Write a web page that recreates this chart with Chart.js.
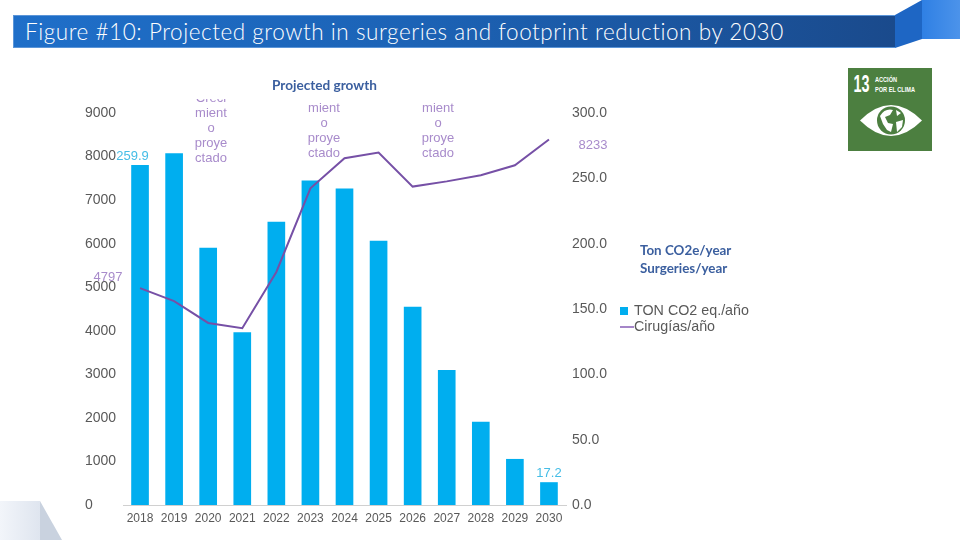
<!DOCTYPE html>
<html lang="en">
<head>
<meta charset="UTF-8">
<title>Figure #10</title>
<script src="https://cdn.jsdelivr.net/npm/chart.js"></script>
<style>
    html, body { margin: 0; padding: 0; background: #fff; }
    #page { position: relative; width: 960px; height: 540px; overflow: hidden; font-family: Arial, "Liberation Sans", sans-serif; }
    #page canvas { position: absolute; left: 0; top: 0; }
    .abs { position: absolute; }
    #banner {
        left: 13px; top: 15px; width: 882px; height: 33px; box-sizing: border-box;
        background: linear-gradient(90deg, #1f6fc9 0%, #1c63b6 45%, #1a4a8c 100%);
        border: 1px solid #5b95d8; border-right: 0;
        color: #fff; font: 300 22.5px/31px Lato, sans-serif; letter-spacing: .55px; padding-left: 11px; white-space: nowrap;
    }
    .note { color: #3b5f9f; font: 700 13.4px/18px Lato, sans-serif; white-space: nowrap; }
    .growth {
        width: 60px; text-align: center; color: #a88bcb; font-size: 13px; line-height: 15px; overflow: hidden;
    }
    #legend { left: 620px; top: 302px; color: #595959; font-size: 14.3px; line-height: 16px; }
    #legend div { white-space: nowrap; position: relative; padding-left: 14px; }
    #legend i { position: absolute; display: block; }
</style>
</head>
<body>
<div id="page">
    <svg class="abs" style="left:0;top:0" width="960" height="540">
        <defs>
            <linearGradient id="fold" x1="0" x2="1" y1="0" y2="0">
                <stop offset="0" stop-color="#2f80e4"/><stop offset="1" stop-color="#4c93ea"/>
            </linearGradient>
            <linearGradient id="corner" x1="0" x2="1" y1="0" y2="0">
                <stop offset="0" stop-color="#f2f5fa"/><stop offset="1" stop-color="#dfe5ef"/>
            </linearGradient>
        </defs>
        <polygon points="895,15 922,0 922,39 895,48" fill="#1e66c4"/>
        <rect x="922" y="0" width="38" height="39" fill="url(#fold)"/>
        <polygon points="0,501 40,501 40,540 0,540" fill="url(#corner)"/>
        <polygon points="40,501 62,540 40,540" fill="#c9d2df"/>
        <!-- SDG 13 tile -->
        <rect x="848" y="68" width="84" height="83" fill="#4c7f40"/>
        <g fill="#fff" font-family="Liberation Sans" font-weight="700">
            <text x="853.5" y="92" font-size="23" textLength="16" lengthAdjust="spacingAndGlyphs">13</text>
            <text x="875" y="82" font-size="8" textLength="22" lengthAdjust="spacingAndGlyphs">ACCIÓN</text>
            <text x="875" y="92" font-size="8" textLength="40" lengthAdjust="spacingAndGlyphs">POR EL CLIMA</text>
        </g>
        <path d="M860 120.5 Q891 89.5 922 120.5 Q891 151.5 860 120.5 Z" fill="#fff"/>
        <circle cx="891" cy="120.5" r="14" fill="#4c7f40"/>
        <path d="M880 116 Q885 108 893 110 L890 115 L885 117 L888 123 L893 124 L891 132 L887 130 L883 124 Z M896 122 L903 120 L902 127 L897 132 Z M896 110 L901 113 L897 116 Z" fill="#fff"/>
    </svg>
    <div id="banner" class="abs">Figure #10: Projected growth in surgeries and footprint reduction by 2030</div>
    <canvas id="chart" width="960" height="540"></canvas>
    <div class="abs note" style="left:272px;top:76px;font-size:13.6px">Projected growth</div>
    <div class="abs note" style="left:640px;top:241px">Ton CO2e/year<br>Surgeries/year</div>
    <div class="abs growth" style="left:181px;top:99px;height:67px"><div style="margin-top:-9px">Creci<br>mient<br>o<br>proye<br>ctado</div></div>
    <div class="abs growth" style="left:294px;top:100px">mient<br>o<br>proye<br>ctado</div>
    <div class="abs growth" style="left:408px;top:100px">mient<br>o<br>proye<br>ctado</div>
    <div id="legend" class="abs">
        <div><i style="left:0;top:5px;width:8px;height:8px;background:#00aeef"></i>TON CO2 eq./año</div>
        <div><i style="left:0;top:8px;width:14px;height:2px;background:#a586c8"></i>Cirugías/año</div>
    </div>
</div>
<script>
    // values
    const years = ['2018','2019','2020','2021','2022','2023','2024','2025','2026','2027','2028','2029','2030'];
    const tonCO2 = [259.9, 269, 196.7, 132, 216.6, 248, 242, 202, 151.5, 103, 63.5, 35, 17.2];
    const surgeries = [4980, 4680, 4180, 4060, 5350, 7270, 7960, 8090, 7310, 7430, 7570, 7800, 8390];
    const barLabels = { 0: '259.9', 12: '17.2' };
    const lineLabels = { 0: '4797', 12: '8233' };

    // small value labels next to the first and last marks
    const valueLabels = {
        id: 'valueLabels',
        afterDatasetsDraw(chart) {
            const ctx = chart.ctx;
            const bars = chart.getDatasetMeta(1).data;
            const line = chart.getDatasetMeta(0).data;
            ctx.save();
            ctx.font = '13px Arial, "Liberation Sans", sans-serif';
            ctx.textAlign = 'center';
            ctx.textBaseline = 'middle';
            ctx.fillStyle = '#45bde6';
            Object.keys(barLabels).forEach(i => {
                ctx.fillText(barLabels[i], bars[i].x - (i == 0 ? 7.5 : 0), bars[i].y - 9);
            });
            ctx.fillStyle = '#a88bcb';
            ctx.fillText(lineLabels[0], line[0].x - 32, line[0].y - 11);
            ctx.fillText(lineLabels[12], line[12].x + 44, line[12].y + 6);
            ctx.restore();
        }
    };

    const tickFont = { family: 'Arial, "Liberation Sans", sans-serif', size: 14 };

    new Chart(document.getElementById('chart'), {
        data: {
            labels: years,
            datasets: [
                {
                    type: 'line', label: 'Cirugías/año', data: surgeries, yAxisID: 'yLeft',
                    borderColor: '#7650a6', borderWidth: 2, pointRadius: 0, tension: 0, order: 1
                },
                {
                    type: 'bar', label: 'TON CO2 eq./año', data: tonCO2, yAxisID: 'yRight',
                    backgroundColor: '#00aeef', barThickness: 17, order: 2
                }
            ]
        },
        options: {
            responsive: false,
            animation: false,
            layout: { padding: { left: 85, right: 340, top: 113, bottom: 14 } },
            plugins: { legend: { display: false }, tooltip: { enabled: false } },
            scales: {
                x: {
                    grid: { display: false, drawTicks: false },
                    border: { color: '#d0d0d0' },
                    ticks: { color: '#595959', font: { family: tickFont.family, size: 12 }, padding: 6, maxRotation: 0, autoSkip: false },
                    afterFit(s) { s.height = 21; }
                },
                yLeft: {
                    position: 'left', min: 0, max: 9000,
                    grid: { display: false, drawTicks: false }, border: { display: false },
                    ticks: { stepSize: 1000, color: '#595959', font: tickFont, crossAlign: 'far', padding: 0,
                        callback: v => String(v) },
                    afterFit(s) { s.width = 38; }
                },
                yRight: {
                    position: 'right', min: 0, max: 300,
                    grid: { display: false, drawTicks: false }, border: { display: false },
                    ticks: { stepSize: 50, color: '#595959', font: tickFont, crossAlign: 'near', padding: 6,
                        callback: v => v.toFixed(1) },
                    afterFit(s) { s.width = 54; }
                }
            }
        },
        plugins: [valueLabels]
    });
</script>
</body>
</html>
